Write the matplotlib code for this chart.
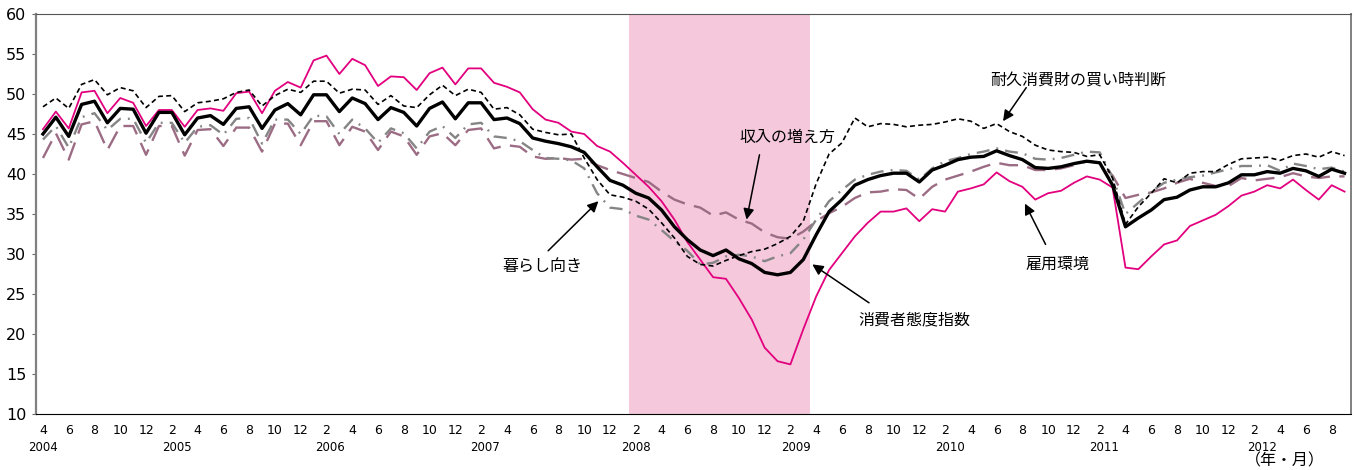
import matplotlib
matplotlib.use("Agg")
import matplotlib.pyplot as plt
import matplotlib.transforms as mtransforms

# monthly, 2004-04 .. 2012-09
months = [(m - 1) % 12 + 1 for m in range(4, 4 + 102)]

cci = [45.0, 47.1, 44.7, 48.7, 49.1, 46.4, 48.2, 48.1, 45.1, 47.7, 47.7, 44.9, 47.0, 47.3, 46.2, 48.2, 48.4,
       45.7, 48.0, 48.8, 47.4, 49.9, 49.9, 47.8, 49.5, 48.8, 46.8, 48.3, 47.7, 46.0, 48.2, 49.0, 46.9,
       48.9, 48.9, 46.8, 47.0, 46.3, 44.5, 44.1, 43.8, 43.4, 42.7, 40.9, 39.2, 38.6, 37.6, 37.0, 35.5, 33.4,
       31.8, 30.5, 29.8, 30.5, 29.4, 28.8, 27.7, 27.4, 27.7, 29.3, 32.4, 35.3, 36.8, 38.6, 39.3, 39.8,
       40.1, 40.1, 39.0, 40.5, 41.1, 41.8, 42.1, 42.2, 42.9, 42.3, 41.8, 40.8, 40.7, 40.9, 41.3, 41.6, 41.4,
       38.6, 33.4, 34.5, 35.5, 36.8, 37.1, 38.0, 38.4, 38.4, 38.9, 39.9, 39.9, 40.3, 40.1, 40.7, 40.4, 39.7, 40.6, 40.1]

employment = [45.6, 47.8, 45.7, 50.2, 50.4, 47.6, 49.5, 48.9, 46.0, 48.0, 48.0, 45.9, 48.0, 48.2, 47.9, 50.1, 50.3,
              47.6, 50.4, 51.5, 50.8, 54.2, 54.8, 52.5, 54.4, 53.6, 51.0, 52.2, 52.1, 50.5, 52.6, 53.3, 51.2,
              53.2, 53.2, 51.4, 50.9, 50.2, 48.1, 46.8, 46.4, 45.3, 45.0, 43.5, 42.8, 41.4, 39.9, 38.4, 36.6, 34.3,
              31.5, 29.3, 27.1, 26.9, 24.5, 21.8, 18.3, 16.6, 16.2, 20.6, 24.7, 28.0, 30.1, 32.2, 33.9, 35.3,
              35.3, 35.7, 34.1, 35.6, 35.3, 37.8, 38.2, 38.7, 40.2, 39.1, 38.4, 36.8, 37.6, 37.9, 38.9, 39.7, 39.3,
              38.3, 28.3, 28.1, 29.7, 31.2, 31.7, 33.5, 34.2, 34.9, 36.0, 37.3, 37.8, 38.6, 38.2, 39.3, 38.0, 36.8, 38.6, 37.8]

durables = [48.4, 49.5, 48.2, 51.2, 51.8, 49.9, 50.8, 50.4, 48.3, 49.7, 49.8, 47.8, 48.9, 49.1, 49.4, 50.2, 50.5,
            48.5, 49.8, 50.6, 50.2, 51.6, 51.6, 50.1, 50.6, 50.5, 48.7, 49.8, 48.5, 48.3, 49.9, 51.1, 49.8,
            50.6, 50.2, 48.1, 48.3, 47.4, 45.6, 45.2, 44.9, 45.0, 42.0, 39.3, 37.4, 37.1, 36.6, 35.6, 33.9, 32.0,
            29.7, 28.7, 28.5, 29.2, 29.8, 30.3, 30.6, 31.3, 32.2, 34.1, 38.8, 42.5, 43.9, 47.0, 45.9, 46.3,
            46.2, 45.9, 46.1, 46.2, 46.5, 46.9, 46.6, 45.7, 46.3, 45.3, 44.7, 43.6, 43.0, 42.8, 42.7, 42.2, 42.4,
            39.5, 33.7, 35.9, 37.6, 39.4, 38.9, 40.1, 40.3, 40.3, 41.2, 41.9, 42.0, 42.1, 41.7, 42.3, 42.5, 42.1, 42.8, 42.3]

livelihood = [44.3, 46.0, 43.3, 47.1, 47.6, 45.5, 46.9, 46.9, 43.9, 46.4, 46.4, 43.9, 45.9, 46.1, 44.9, 46.9, 47.0,
              43.8, 46.8, 46.8, 45.0, 47.3, 47.2, 45.0, 46.8, 45.7, 43.9, 45.7, 45.1, 43.2, 45.3, 46.0, 44.5,
              46.2, 46.4, 44.7, 44.5, 44.1, 43.0, 42.0, 41.9, 41.7, 40.7, 37.6, 35.8, 35.6, 34.8, 34.3, 33.0, 31.6,
              30.4, 28.7, 28.9, 29.7, 29.9, 29.7, 29.1, 29.7, 30.1, 31.8, 34.3, 36.6, 38.0, 39.3, 39.9, 40.3,
              40.5, 40.4, 39.3, 40.7, 41.6, 42.0, 42.5, 42.8, 43.2, 42.8, 42.6, 41.9, 41.8, 42.0, 42.4, 42.8, 42.7,
              39.6, 35.0, 36.4, 37.8, 38.9, 39.3, 39.6, 39.8, 40.2, 40.6, 41.0, 41.0, 41.1, 40.4, 41.3, 41.0, 40.6, 40.8, 40.3]

income = [42.0, 45.1, 41.8, 46.2, 46.6, 43.0, 46.0, 46.0, 42.4, 46.0, 46.0, 42.3, 45.5, 45.6, 43.5, 45.8, 45.8,
          42.8, 46.3, 46.3, 43.6, 46.6, 46.6, 43.6, 45.9, 45.3, 43.0, 45.3, 44.7, 42.4, 44.7, 45.1, 43.6,
          45.5, 45.7, 43.2, 43.6, 43.4, 42.2, 41.9, 42.0, 41.8, 41.9, 41.1, 40.5, 40.0, 39.5, 39.0, 37.8, 36.8,
          36.2, 35.8, 34.8, 35.2, 34.3, 33.8, 32.7, 32.1, 31.9, 32.8, 34.1, 35.1, 35.9, 37.0, 37.7, 37.8,
          38.1, 38.0, 36.9, 38.4, 39.3, 39.8, 40.3, 40.9, 41.4, 41.1, 41.1, 40.5, 40.5, 40.7, 41.1, 41.6, 41.4,
          39.8, 37.0, 37.4, 37.7, 38.2, 38.9, 39.4, 38.9, 38.5, 38.5, 39.5, 39.2, 39.4, 39.6, 40.1, 39.7, 39.5, 39.7, 39.7]

years = ["2004", "2005", "2006", "2007", "2008", "2009", "2010", "2011", "2012"]
year_pos = [0, 10.4, 22.3, 34.3, 46, 58.4, 70.4, 82.3, 94.6]

recession = (45.5, 59.5)  # 2008-02 .. 2009-03

jp = ["Noto Sans CJK JP", "DejaVu Sans"]
num = ["Liberation Sans Narrow", "DejaVu Sans"]

fig = plt.figure(figsize=(13.54, 4.70), dpi=100)
ax = fig.add_axes([36 / 1354, 1 - 414 / 470, 1315 / 1354, 400 / 470])

x = list(range(len(cci)))
ax.axvspan(recession[0], recession[1], color="#f5c8dc", lw=0, zorder=0)

ax.plot(x, income, color="#9c6c84", lw=1.7, ls=(0, (8, 4)), zorder=2)
ax.plot(x, livelihood, color="#858585", lw=1.7, ls=(0, (5.5, 3, 0.8, 3)), zorder=2)
ax.plot(x, employment, color="#e2007e", lw=1.3, zorder=3)
ax.plot(x, durables, color="black", lw=1.2, ls=(0, (3, 2)), zorder=3)
ax.plot(x, cci, color="black", lw=2.4, zorder=4)

ax.set_xlim(-0.54, 101.5)
ax.set_ylim(10, 60)
ax.set_yticks(range(10, 61, 5))
ax.set_xticks(x[::2])
ax.set_xticklabels([str(m) for m in months[::2]], fontsize=9, family=num)
for lab in ax.get_yticklabels():
    lab.set_fontsize(11.5)
    lab.set_family(num)
ax.tick_params(axis="x", length=0, pad=7)
ax.tick_params(axis="y", length=3, pad=4, color="#666666")

ax.spines["left"].set_color("#808080")
ax.spines["left"].set_linewidth(1.6)
ax.spines["top"].set_color("#555555")
ax.spines["right"].set_color("#808080")
ax.spines["right"].set_linewidth(1.4)
ax.spines["bottom"].set_color("black")

trans = mtransforms.blended_transform_factory(ax.transData, ax.transAxes)
for yr, p in zip(years, year_pos):
    ax.text(p, -0.083, yr, transform=trans, ha="center", va="center", fontsize=8.5, family=num)

fig.text(1285 / 1354, 1 - 461 / 470, "（年・月）", ha="center", va="center", fontsize=11.5, family=jp)

arrow = dict(arrowstyle="-|>", color="black", lw=1.1, mutation_scale=16, shrinkA=0, shrinkB=0)
notes = [
    ("耐久消費財の買い時判断", (80.3, 51.6), (76.3, 50.8), (74.5, 46.6)),
    ("収入の増え方", (57.8, 44.6), (55.6, 42.4), (54.6, 34.3)),
    ("暮らし向き", (38.8, 28.5), (39.2, 30.4), (43.1, 36.6)),
    ("消費者態度指数", (67.6, 21.8), (64.1, 23.9), (59.7, 28.7)),
    ("雇用環境", (78.7, 28.7), (77.8, 31.2), (76.2, 36.3)),
]
for label, tpos, start, head in notes:
    ax.text(tpos[0], tpos[1], label, ha="center", va="center", fontsize=11.5, family=jp, zorder=6)
    ax.annotate("", xy=head, xytext=start, arrowprops=arrow, zorder=6)

fig.savefig("out.png", dpi=100)
